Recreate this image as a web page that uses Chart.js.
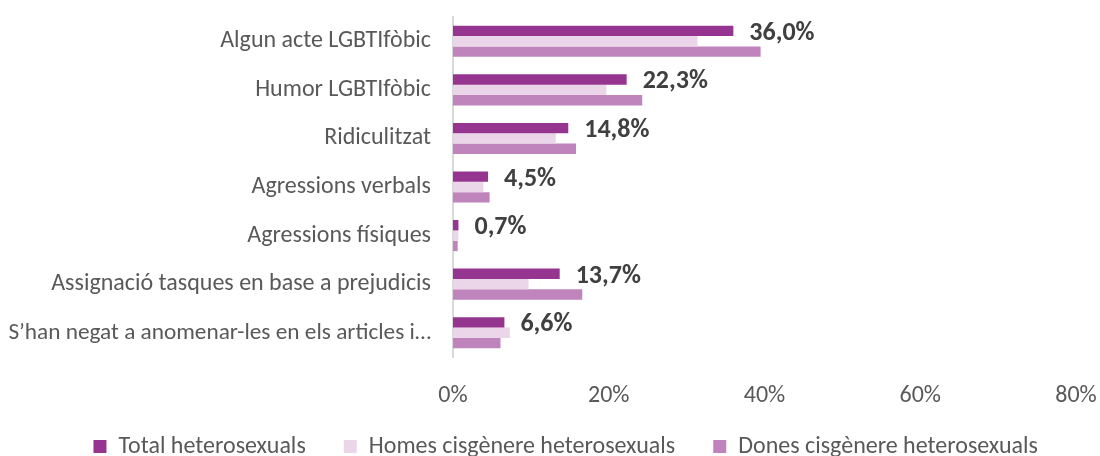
<!DOCTYPE html>
<html>
<head>
<meta charset="utf-8">
<script src="https://cdn.jsdelivr.net/npm/chart.js@4.4.1/dist/chart.umd.min.js"></script>
<style>
  html, body { margin: 0; padding: 0; background: #ffffff; }
  #wrap { width: 1100px; height: 456px; position: relative; }
</style>
</head>
<body>
<div id="wrap"><canvas id="c"></canvas></div>
<script>
const categories = [
  "Algun acte LGBTIfòbic",
  "Humor LGBTIfòbic",
  "Ridiculitzat",
  "Agressions verbals",
  "Agressions físiques",
  "Assignació tasques en base a prejudicis",
  "S\u2019han negat a anomenar-les en els articles i\u2026"
];
const seriesNames = ["Total heterosexuals", "Homes cisgènere heterosexuals", "Dones cisgènere heterosexuals"];
const totalHetero = [36.0, 22.3, 14.8, 4.5, 0.7, 13.7, 6.6];
const homesCis = [31.4, 19.7, 13.2, 3.9, 0.7, 9.7, 7.3];
const donesCis = [39.5, 24.3, 15.8, 4.7, 0.6, 16.6, 6.1];
const xTicks = [0, 20, 40, 60, 80];

const FONT = "Carlito, Calibri, Lato, sans-serif";

const totalLabels = {
  id: "totalLabels",
  afterDatasetsDraw(chart) {
    const ctx = chart.ctx;
    const meta = chart.getDatasetMeta(0);
    ctx.save();
    ctx.font = "bold 26px " + FONT;
    ctx.fillStyle = "#404040";
    ctx.textAlign = "left";
    ctx.textBaseline = "middle";
    meta.data.forEach((bar, i) => {
      const v = totalHetero[i];
      ctx.fillText(v.toFixed(1).replace(".", ",") + "%", bar.x + 16, bar.y + 2.5);
    });
    ctx.restore();
  }
};

new Chart(document.getElementById("c"), {
  type: "bar",
  data: {
    labels: categories,
    datasets: [
      { label: seriesNames[0], data: totalHetero, backgroundColor: "#953590" },
      { label: seriesNames[1], data: homesCis, backgroundColor: "#ebd6e9" },
      { label: seriesNames[2], data: donesCis, backgroundColor: "#c084bc" }
    ]
  },
  options: {
    indexAxis: "y",
    responsive: true,
    maintainAspectRatio: false,
    animation: false,
    layout: { padding: { top: 17, right: 24, left: 0, bottom: -12.5 } },
    datasets: { bar: { categoryPercentage: 0.64, barPercentage: 1.0 } },
    scales: {
      x: {
        min: 0, max: 80,
        afterBuildTicks(scale) { scale.ticks = xTicks.map(v => ({ value: v })); },
        afterFit(scale) { scale.height = 39.5; scale.paddingLeft = 0; scale.paddingRight = 0; },
        grid: { display: false, drawTicks: false },
        border: { display: false },
        ticks: {
          mirror: true,
          padding: -53.4,
          color: "#595959",
          font: { family: FONT, size: 24 },
          callback: (v) => v + "%"
        }
      },
      y: {
        afterFit(scale) { scale.width = 453; scale.paddingTop = 0; scale.paddingBottom = 0; },
        grid: { display: false, drawTicks: false },
        border: { display: true, color: "#d9d9d9", width: 2 },
        ticks: {
          padding: 22,
          color: "#595959",
          font: (c) => ({ family: FONT, size: (categories[c.index] || "").endsWith("\u2026") ? 23.3 : 24 }),
          autoSkip: false
        }
      }
    },
    plugins: {
      legend: {
        position: "bottom",
        align: "end",
        labels: {
          color: "#595959",
          font: { family: FONT, size: 24 },
          boxWidth: 13,
          boxHeight: 13,
          padding: 38
        }
      },
      tooltip: { enabled: false }
    }
  },
  plugins: [totalLabels]
});
</script>
</body>
</html>
